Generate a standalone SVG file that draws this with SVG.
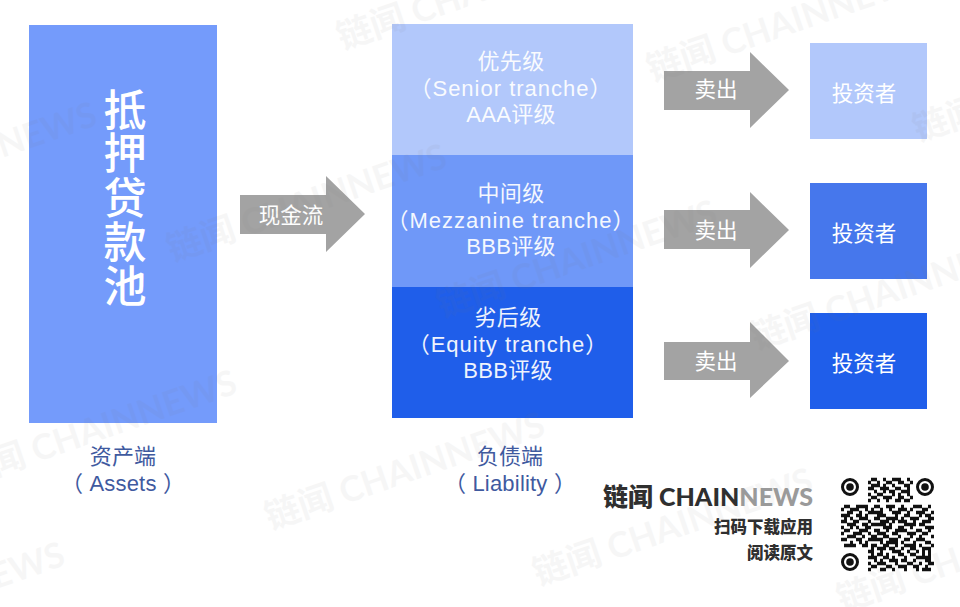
<svg xmlns="http://www.w3.org/2000/svg" width="960" height="607" viewBox="0 0 960 607">
<style>
text{font-family:"Liberation Sans","Noto Sans CJK SC",sans-serif}
.w{fill:#fff;font-size:22px;text-anchor:middle;opacity:.93;letter-spacing:.3px}
.l{letter-spacing:1px}
.d{fill:#3f5a9f;font-size:22px;text-anchor:middle;letter-spacing:.2px}
.a{fill:#a3a3a3}
.s{fill:#fff;font-size:21.5px;text-anchor:middle}
.p{fill:#fff;font-size:43px;font-weight:500;text-anchor:middle}
.wm{fill:#777;opacity:.06;font-size:35px;font-weight:700;font-family:"Lato","Noto Sans CJK SC",sans-serif}
.b{fill:#2f2f2f;font-family:"Lato","Noto Sans CJK SC",sans-serif;font-weight:900;text-anchor:end}
</style>
<rect width="960" height="607" fill="#fff"/>
<g id="pool">
<rect x="29" y="25" width="188" height="398" fill="#749bfb"/>
<text class="p"><tspan x="125" y="126">抵</tspan><tspan x="125" y="169">押</tspan><tspan x="125" y="214">贷</tspan><tspan x="125" y="258">款</tspan><tspan x="125" y="302">池</tspan></text>
</g>
<g id="assets-label">
<text class="d" x="123" y="464">资产端</text>
<text class="d" x="123" y="491">（ Assets ）</text>
</g>
<g id="senior">
<rect x="392" y="24" width="241" height="131" fill="#b2c8fb"/>
<text class="w" x="511" y="69">优先级</text>
<text class="w l" x="511" y="96">（Senior tranche）</text>
<text class="w" x="511" y="122">AAA评级</text>
</g>
<g id="mezzanine">
<rect x="392" y="155" width="241" height="132" fill="#6f98f8"/>
<text class="w" x="511" y="201">中间级</text>
<text class="w l" x="511" y="228">（Mezzanine tranche）</text>
<text class="w" x="511" y="254">BBB评级</text>
</g>
<g id="equity">
<rect x="392" y="287" width="241" height="131" fill="#1f5eea"/>
<text class="w" x="508" y="325">劣后级</text>
<text class="w l" x="508" y="352">（Equity tranche）</text>
<text class="w" x="508" y="378">BBB评级</text>
</g>
<g id="liability-label">
<text class="d" x="510" y="464">负债端</text>
<text class="d" x="510" y="491">（ Liability ）</text>
</g>
<g id="connectors">
<path class="a" d="M240 195H326V176L365 214L326 252V234H240Z"/>
<path class="a" d="M664 71H750V52L789 90L750 128V110H664Z"/>
<path class="a" d="M664 210H750V192L789 230L750 268V249H664Z"/>
<path class="a" d="M664 342H750V322L789 361L750 398V380H664Z"/>
<text class="s" x="291" y="223">现金流</text>
<text class="s" x="716" y="97">卖出</text>
<text class="s" x="716" y="238">卖出</text>
<text class="s" x="716" y="369">卖出</text>
</g>
<g id="investor-1">
<rect x="810" y="43" width="117" height="96" fill="#b2c8fb"/>
<text class="s" x="864" y="101">投资者</text>
</g>
<g id="investor-2">
<rect x="810" y="183" width="117" height="96" fill="#4677ec"/>
<text class="s" x="864" y="241">投资者</text>
</g>
<g id="investor-3">
<rect x="810" y="313" width="117" height="96" fill="#1f5eea"/>
<text class="s" x="864" y="371">投资者</text>
</g>
<g id="watermarks">
<text class="wm" transform="translate(342 50) rotate(-19)">链闻 CHAINNEWS</text>
<text class="wm" transform="translate(652 82) rotate(-19)">链闻 CHAINNEWS</text>
<text class="wm" transform="translate(172 262) rotate(-19)">链闻 CHAINNEWS</text>
<text class="wm" transform="translate(442 318) rotate(-19)">链闻 CHAINNEWS</text>
<text class="wm" transform="translate(756 350) rotate(-19)">链闻 CHAINNEWS</text>
<text class="wm" transform="translate(-38 488) rotate(-19)">链闻 CHAINNEWS</text>
<text class="wm" transform="translate(270 530) rotate(-19)">链闻 CHAINNEWS</text>
<text class="wm" transform="translate(538 586) rotate(-19)">链闻 CHAINNEWS</text>
<text class="wm" transform="translate(842 612) rotate(-19)">链闻 CHAINNEWS</text>
<text class="wm" transform="translate(918 142) rotate(-19)">链闻 CHAINNEWS</text>
<text class="wm" transform="translate(-178 220) rotate(-19)">链闻 CHAINNEWS</text>
<text class="wm" transform="translate(-210 660) rotate(-19)">链闻 CHAINNEWS</text>
</g>
<g id="brand">
<text class="b" x="813" y="506" font-size="25"><tspan>链闻 CHAIN</tspan><tspan fill="#9a9a9a">NEWS</tspan></text>
<text class="b" x="813" y="533" font-size="16.5">扫码下载应用</text>
<text class="b" x="813" y="559" font-size="16.5">阅读原文</text>
</g>
<g id="qr">
<g fill="none" stroke="#111">
<circle cx="850" cy="487" r="7.5" stroke-width="3"/><circle cx="925" cy="487" r="7.5" stroke-width="3"/><circle cx="850" cy="562" r="7.5" stroke-width="3"/>
</g>
<g fill="#111"><circle cx="850" cy="487" r="3.8"/><circle cx="925" cy="487" r="3.8"/><circle cx="850" cy="562" r="3.8"/></g>
<path transform="translate(841 478) scale(3)" fill="none" stroke="#111" stroke-width="1.1" d="
M10 .5h2M14 .5h1M17 .5h3M22 .5h1
M9 1.5h1M12 1.5h1M15 1.5h2M19 1.5h2M23 1.5h1
M10 2.5h3M14 2.5h1M17 2.5h1M21 2.5h2
M9 3.5h2M13 3.5h3M18 3.5h2M22 3.5h1
M11 4.5h1M14 4.5h1M16 4.5h2M20 4.5h3
M9 5.5h1M12 5.5h2M17 5.5h1M19 5.5h1M22 5.5h1
M10 6.5h2M14 6.5h3M19 6.5h2M23 6.5h1
M9 7.5h1M12 7.5h1M15 7.5h1M18 7.5h2M21 7.5h2
M1 9.5h2M5 9.5h4M11 9.5h2M15 9.5h3M20 9.5h1M24 9.5h3M29 9.5h1
M0 10.5h1M3 10.5h3M8 10.5h1M10 10.5h1M13 10.5h1M16 10.5h1M19 10.5h3M23 10.5h1M27 10.5h2
M2 11.5h2M6 11.5h1M9 11.5h5M17 11.5h3M22 11.5h1M25 11.5h3M30 11.5h1
M0 12.5h3M5 12.5h2M8 12.5h1M12 12.5h3M18 12.5h1M21 12.5h2M26 12.5h1M28 12.5h2
M1 13.5h1M3 13.5h1M6 13.5h3M11 13.5h2M15 13.5h4M20 13.5h1M23 13.5h3M29 13.5h2
M0 14.5h2M4 14.5h2M9 14.5h1M13 14.5h3M17 14.5h1M19 14.5h3M24 14.5h1M27 14.5h3
M2 15.5h3M7 15.5h2M10 15.5h5M16 15.5h1M21 15.5h4M26 15.5h2
M0 16.5h1M3 16.5h1M5 16.5h1M8 16.5h2M14 16.5h3M19 16.5h2M23 16.5h1M28 16.5h3
M1 17.5h2M6 17.5h3M11 17.5h2M15 17.5h1M18 17.5h4M25 17.5h2M29 17.5h1
M0 18.5h1M4 18.5h3M9 18.5h1M12 18.5h3M17 18.5h2M22 18.5h3M27 18.5h2
M2 19.5h3M7 19.5h1M10 19.5h2M14 19.5h2M19 19.5h1M23 19.5h1M26 19.5h1M30 19.5h1
M0 20.5h2M5 20.5h2M9 20.5h5M16 20.5h3M21 20.5h2M25 20.5h3
M3 21.5h1M6 21.5h1M8 21.5h1M13 21.5h1M15 21.5h4M20 21.5h1M24 21.5h1M28 21.5h2
M1 22.5h4M7 22.5h2M10 22.5h2M14 22.5h2M18 22.5h1M21 22.5h4M26 22.5h1M30 22.5h1
M10 23.5h1M12 23.5h3M16 23.5h2M20 23.5h1M23 23.5h2M27 23.5h3
M9 24.5h2M13 24.5h1M17 24.5h3M22 24.5h1M25 24.5h1M27 24.5h1M29 24.5h1
M10 25.5h1M12 25.5h2M15 25.5h1M19 25.5h2M23 25.5h2M27 25.5h1M29 25.5h1
M9 26.5h3M14 26.5h2M17 26.5h1M21 26.5h1M25 26.5h5
M11 27.5h1M13 27.5h1M16 27.5h3M20 27.5h2M24 27.5h1M28 27.5h2
M9 28.5h1M12 28.5h3M18 28.5h1M22 28.5h2M26 28.5h1M29 28.5h2
M10 29.5h2M15 29.5h2M19 29.5h3M24 29.5h2M28 29.5h1
M9 30.5h1M13 30.5h2M17 30.5h1M21 30.5h1M25 30.5h1M27 30.5h3"/>
</g>
</svg>
